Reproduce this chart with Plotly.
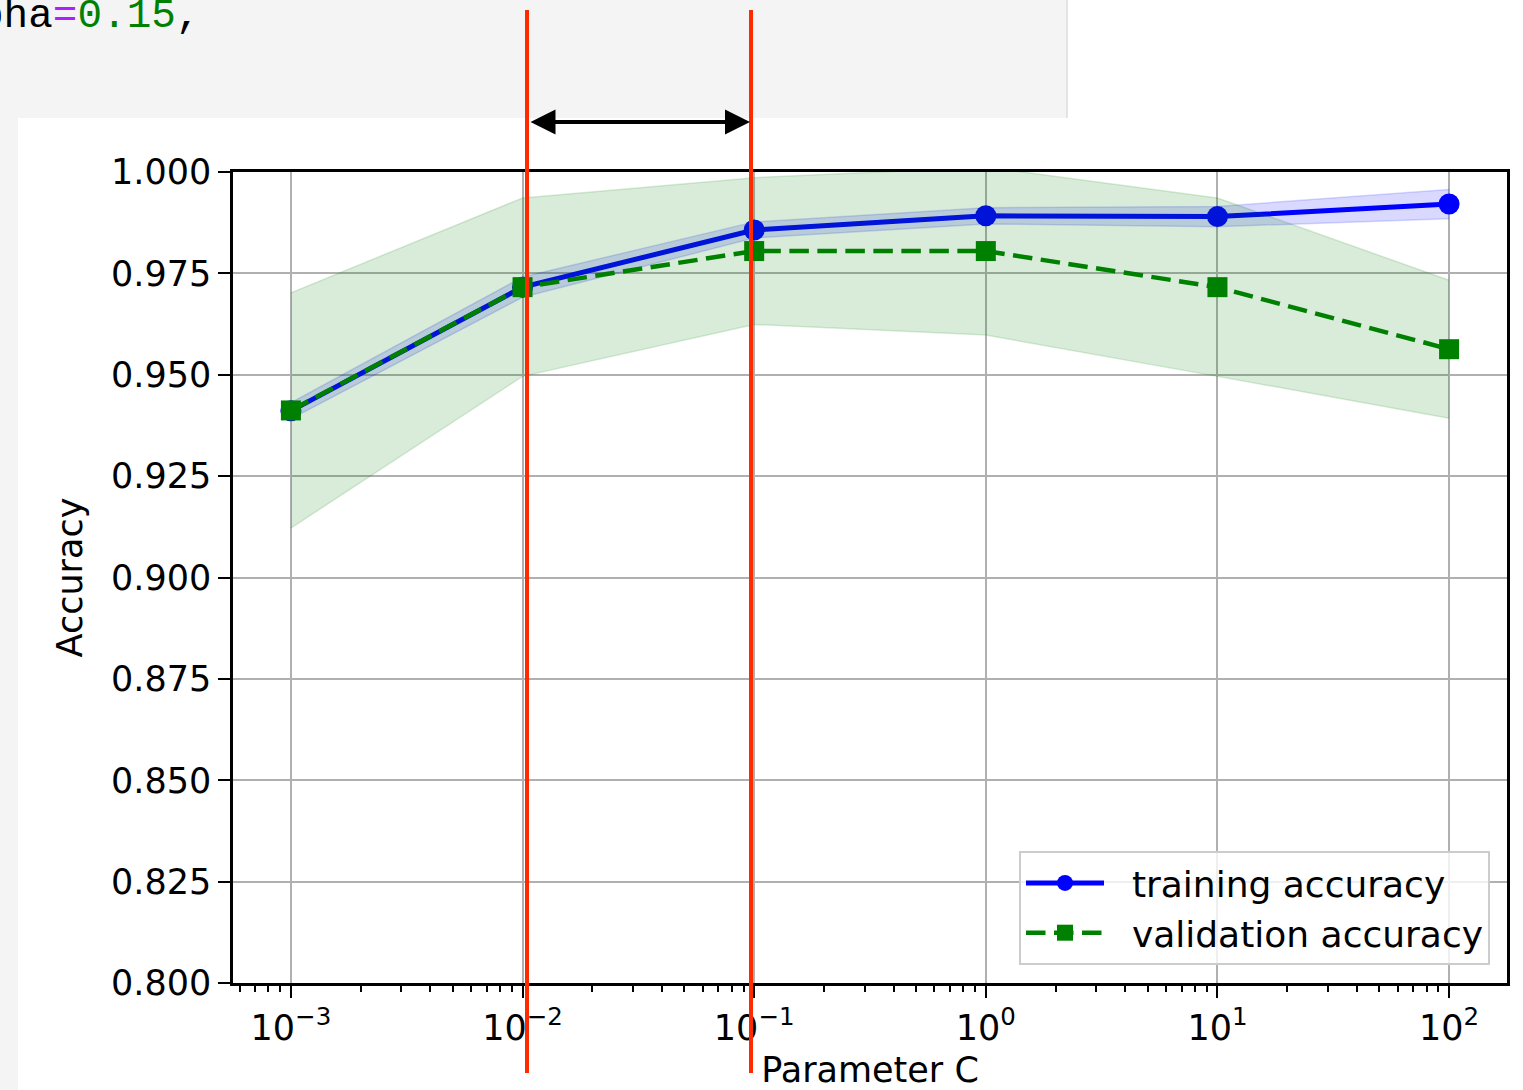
import plotly.graph_objects as go

# ---- data ----
param_range = [0.001, 0.01, 0.1, 1.0, 10.0, 100.0]
train_mean = [0.9411, 0.9716, 0.9857, 0.9892, 0.9890, 0.9921]
train_std = [0.0020, 0.0025, 0.0020, 0.0020, 0.0025, 0.0036]
test_mean = [0.9412, 0.9716, 0.9805, 0.9805, 0.9716, 0.9563]
test_std = [0.0290, 0.0220, 0.0181, 0.0207, 0.0220, 0.0170]
x_tick_vals = [0.001, 0.01, 0.1, 1, 10, 100]
x_tick_text = ["10<sup>\u22123</sup>", "10<sup>\u22122</sup>", "10<sup>\u22121</sup>",
               "10<sup>0</sup>", "10<sup>1</sup>", "10<sup>2</sup>"]
minor_ticks = [m * 10.0 ** e for e in range(-4, 3) for m in range(2, 10)]

W, H = 1523, 1090
L, R, T, B = 233, 16, 172, 107
FONT = "DejaVu Sans"
GAP = "\u00a0\u00a0"


def px_x(p):
    return (p - L) / (W - L - R)


def px_y(p):
    return (H - B - p) / (H - T - B)


train_up = [m + s for m, s in zip(train_mean, train_std)]
train_lo = [m - s for m, s in zip(train_mean, train_std)]
test_up = [m + s for m, s in zip(test_mean, test_std)]
test_lo = [m - s for m, s in zip(test_mean, test_std)]

fig = go.Figure()
fig.add_trace(go.Scatter(x=param_range, y=train_mean, mode="lines+markers",
                         name=GAP + "training accuracy",
                         line=dict(color="blue", width=5),
                         marker=dict(symbol="circle", size=21, color="blue")))
fig.add_trace(go.Scatter(x=param_range, y=train_up, mode="lines", showlegend=False,
                         line=dict(color="rgba(0,0,255,0.15)", width=1.5), hoverinfo="skip"))
fig.add_trace(go.Scatter(x=param_range, y=train_lo, mode="lines", showlegend=False,
                         fill="tonexty", fillcolor="rgba(0,0,255,0.15)",
                         line=dict(color="rgba(0,0,255,0.15)", width=1.5), hoverinfo="skip"))
fig.add_trace(go.Scatter(x=param_range, y=test_mean, mode="lines+markers",
                         name=GAP + "validation accuracy",
                         line=dict(color="green", width=4.5, dash="19.5px,8.5px"),
                         marker=dict(symbol="square", size=20, color="green")))
fig.add_trace(go.Scatter(x=param_range, y=test_up, mode="lines", showlegend=False,
                         line=dict(color="rgba(0,128,0,0.15)", width=1.5), hoverinfo="skip"))
fig.add_trace(go.Scatter(x=param_range, y=test_lo, mode="lines", showlegend=False,
                         fill="tonexty", fillcolor="rgba(0,128,0,0.15)",
                         line=dict(color="rgba(0,128,0,0.15)", width=1.5), hoverinfo="skip"))

shapes = [
    dict(type="rect", xref="paper", yref="paper", x0=px_x(0), x1=px_x(1067),
         y0=px_y(118), y1=px_y(0), fillcolor="#f4f4f4", line=dict(width=0), layer="below"),
    dict(type="rect", xref="paper", yref="paper", x0=px_x(0), x1=px_x(18),
         y0=px_y(1090), y1=px_y(118), fillcolor="#f4f4f4", line=dict(width=0), layer="below"),
    dict(type="line", xref="paper", yref="paper", x0=px_x(1067), x1=px_x(1067),
         y0=px_y(118), y1=px_y(0), line=dict(color="#dddddd", width=1.5), layer="below"),
    dict(type="line", xref="paper", yref="paper", x0=px_x(527), x1=px_x(527),
         y0=px_y(1073), y1=px_y(10), line=dict(color="#ff2a00", width=4)),
    dict(type="line", xref="paper", yref="paper", x0=px_x(751), x1=px_x(751),
         y0=px_y(1073), y1=px_y(10), line=dict(color="#ff2a00", width=4)),
]

annotations = [
    dict(xref="paper", yref="paper", x=px_x(-23), y=px_y(16), xanchor="left", yanchor="middle",
         showarrow=False,
         text='pha<span style="color:#aa22ff">=</span><span style="color:#008000">0.15</span>,',
         font=dict(family="Liberation Mono", size=41, color="black")),
    dict(xref="paper", yref="paper", x=px_x(750), y=px_y(122), ax=-221, ay=0,
         axref="pixel", ayref="pixel", text="", showarrow=True, arrowhead=2,
         arrowside="end+start", arrowwidth=4, arrowsize=1.25, arrowcolor="black",
         standoff=0, startstandoff=0),
]

axis_common = dict(
    showline=True, linecolor="black", linewidth=2.5, mirror=True,
    ticks="outside", ticklen=12, tickwidth=2, tickcolor="black",
    showgrid=True, gridcolor="#b0b0b0", gridwidth=2, zeroline=False,
    tickfont=dict(family=FONT, size=35, color="black"),
    automargin=False,
)

fig.update_layout(
    width=W, height=H, autosize=False,
    margin=dict(l=L, r=R, t=T, b=B, pad=0),
    paper_bgcolor="white", plot_bgcolor="white",
    font=dict(family=FONT, color="black"),
    shapes=shapes, annotations=annotations,
    xaxis=dict(type="log", range=[-3.25, 2.25], tickmode="array",
               tickvals=x_tick_vals, ticktext=x_tick_text,
               minor=dict(tickmode="array", tickvals=minor_ticks, ticks="outside",
                          ticklen=6, tickwidth=1.5, tickcolor="black", showgrid=False),
               title=dict(text="Parameter C", font=dict(family=FONT, size=35), standoff=20),
               **axis_common),
    yaxis=dict(range=[0.8, 1.0], tickmode="linear", tick0=0.8, dtick=0.025,
               tickformat=".3f",
               title=dict(text="Accuracy", font=dict(family=FONT, size=35), standoff=18),
               **axis_common),
    legend=dict(x=px_x(1490), xanchor="right", y=px_y(965), yanchor="bottom",
                bgcolor="rgba(255,255,255,0.8)", bordercolor="#cccccc", borderwidth=2,
                font=dict(family=FONT, size=36, color="black"), tracegroupgap=0,
                traceorder="normal", itemwidth=78),
    showlegend=True,
)

fig.write_html("out.html", config={"displayModeBar": False},
               post_script="document.body.style.margin='0px';")
